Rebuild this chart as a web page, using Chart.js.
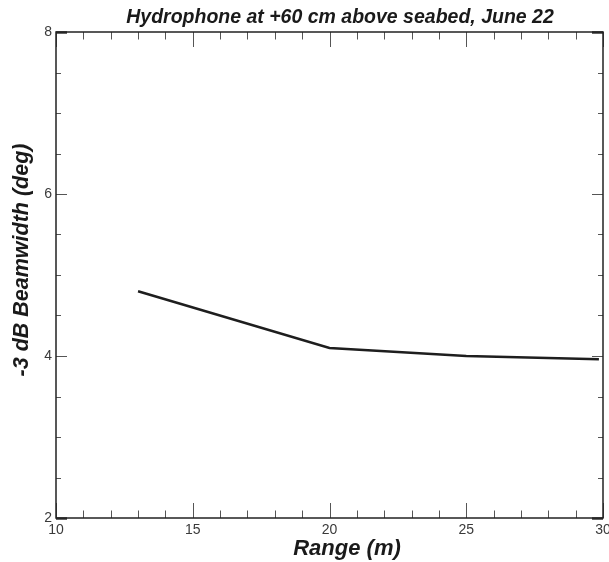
<!DOCTYPE html>
<html>
<head>
<meta charset="utf-8">
<title>Beamwidth vs range</title>
<script src="https://cdn.jsdelivr.net/npm/chart.js@4.4.1/dist/chart.umd.min.js"></script>
<style>
    html, body { margin: 0; padding: 0; background: #fff; }
    #wrap { width: 609px; height: 562px; }
</style>
</head>
<body>
<div id="wrap"><canvas id="beamChart" width="609" height="562"></canvas></div>
<script>
// Veri
const rangeM = [13, 20, 25, 29.85];
const beamwidthDeg = [4.8, 4.1, 4.0, 3.96];

// Eksen etiketleri
const xTickValues = [10, 15, 20, 25, 30];
const yTickValues = [2, 4, 6, 8];
const chartTitle = 'Hydrophone at +60 cm above seabed, June 22';
const xTitle = 'Range (m)';
const yTitle = '-3 dB Beamwidth (deg)';

const FONT = "'Liberation Sans', Arial, Helvetica, sans-serif";

// Içe dönük tik çizgileri + çerçeve + başlıklar
const framePlugin = {
    id: 'frame',
    afterDatasetsDraw(chart) {
        const { ctx, chartArea: a, scales: { x, y } } = chart;
        ctx.save();

        // x tikleri (alt ve üst)
        ctx.strokeStyle = '#555';
        ctx.lineWidth = 1;
        for (let v = 10; v <= 30; v += 1) {
            const px = Math.round(x.getPixelForValue(v)) + 0.5;
            const major = xTickValues.includes(v);
            const len = major ? 15 : 7.5;
            ctx.beginPath();
            ctx.moveTo(px, a.bottom);
            ctx.lineTo(px, a.bottom - len);
            ctx.moveTo(px, a.top);
            ctx.lineTo(px, a.top + len);
            ctx.stroke();
        }

        // y tikleri (sol ve sağ)
        for (let v = 2; v <= 8; v += 0.5) {
            const py = Math.round(y.getPixelForValue(v)) + 0.5;
            const major = yTickValues.includes(v);
            const edge = v === 2 || v === 8;
            const len = major ? 11 : 5;
            ctx.lineWidth = edge ? 2.5 : 1;
            ctx.strokeStyle = edge ? '#333' : '#555';
            ctx.beginPath();
            ctx.moveTo(a.left, py);
            ctx.lineTo(a.left + len, py);
            ctx.moveTo(a.right, py);
            ctx.lineTo(a.right - len, py);
            ctx.stroke();
        }

        // çerçeve
        ctx.strokeStyle = '#222';
        ctx.lineWidth = 1.5;
        ctx.strokeRect(a.left, a.top, a.right - a.left, a.bottom - a.top);

        // başlık
        ctx.fillStyle = '#1a1a1a';
        ctx.textAlign = 'center';
        ctx.textBaseline = 'alphabetic';
        ctx.font = `italic bold 19.5px ${FONT}`;
        ctx.fillText(chartTitle, 340, 23);

        // x ekseni başlığı
        ctx.textBaseline = 'middle';
        ctx.font = `italic bold 22px ${FONT}`;
        ctx.fillText(xTitle, 347, 549);

        // y ekseni başlığı
        ctx.translate(22.5, 260);
        ctx.rotate(-Math.PI / 2);
        ctx.font = `italic bold 21.5px ${FONT}`;
        ctx.fillText(yTitle, 0, 0);
        ctx.restore();
    }
};

const ctx = document.getElementById('beamChart').getContext('2d');
new Chart(ctx, {
    type: 'line',
    data: {
        datasets: [{
            data: rangeM.map((r, i) => ({ x: r, y: beamwidthDeg[i] })),
            borderColor: '#1e1e1e',
            borderWidth: 2.5,
            pointRadius: 0,
            tension: 0,
            fill: false
        }]
    },
    options: {
        responsive: false,
        animation: false,
        layout: {
            autoPadding: false,
            padding: { top: 32, right: 6, left: 0, bottom: 0 }
        },
        plugins: {
            legend: { display: false },
            title: { display: false },
            tooltip: { enabled: false }
        },
        scales: {
            x: {
                type: 'linear',
                min: 10,
                max: 30,
                afterFit: s => {
                    s.height = 44;
                    s.paddingLeft = 0;
                    s.paddingRight = 0;
                },
                afterBuildTicks: s => { s.ticks = xTickValues.map(v => ({ value: v })); },
                grid: { display: false, drawTicks: false },
                border: { display: false },
                ticks: {
                    padding: 4,
                    color: '#3a3a3a',
                    font: { family: FONT, size: 14 },
                    maxRotation: 0,
                    autoSkip: false
                }
            },
            y: {
                type: 'linear',
                min: 2,
                max: 8,
                afterFit: s => {
                    s.width = 56;
                    s.paddingTop = 0;
                    s.paddingBottom = 0;
                },
                afterBuildTicks: s => { s.ticks = yTickValues.map(v => ({ value: v })); },
                grid: { display: false, drawTicks: false },
                border: { display: false },
                ticks: {
                    padding: 4,
                    color: '#3a3a3a',
                    font: { family: FONT, size: 14 },
                    autoSkip: false
                }
            }
        }
    },
    plugins: [framePlugin]
});
</script>
</body>
</html>
